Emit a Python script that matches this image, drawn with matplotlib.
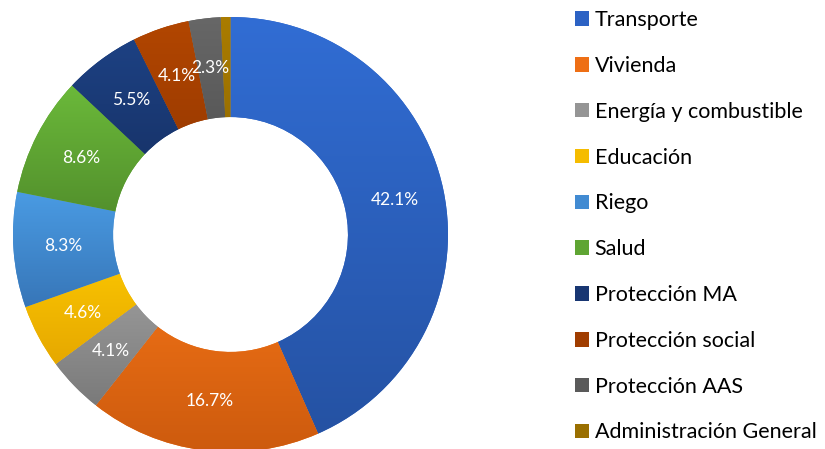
import numpy as np
import matplotlib.pyplot as plt
from matplotlib.patches import Patch
from matplotlib.colors import LinearSegmentedColormap

# Data
categories = ["Transporte", "Vivienda", "Energía y combustible", "Educación", "Riego",
              "Salud", "Protección MA", "Protección social", "Protección AAS",
              "Administración General"]
values = [42.1, 16.7, 4.1, 4.6, 8.3, 8.6, 5.5, 4.1, 2.3, 0.7]
labels = ["42.1%", "16.7%", "4.1%", "4.6%", "8.3%", "8.6%", "5.5%", "4.1%", "2.3%", ""]

# gradient colours per slice (top, bottom) like the Office theme
top_colors = ["#316DD4", "#F97818", "#A9A9A9", "#FFCC00", "#4A9BE3",
              "#6BB93A", "#1D4183", "#B24600", "#676767", "#AA7C00"]
bottom_colors = ["#2552A3", "#CC5A0E", "#7A7A7A", "#E6A800", "#3776B8",
                 "#4F8A2A", "#142C5C", "#8C3300", "#4A4A4A", "#8A6300"]
legend_colors = ["#2C62C4", "#EE6F15", "#959595", "#F5BC00", "#428BD2",
                 "#5FA533", "#183672", "#A03D00", "#5A5A5A", "#9A6F00"]

plt.rcParams['font.family'] = ['Lato', 'DejaVu Sans']

W, H = 825, 449
fig = plt.figure(figsize=(W / 100, H / 100), dpi=100)

cx, cy, R = 230.5, 234.5, 217.5
ax = fig.add_axes([(cx - R) / W, (H - cy - R) / H, 2 * R / W, 2 * R / H])

wedges, _ = ax.pie(values, startangle=90, counterclock=False, radius=1,
                   colors=legend_colors, wedgeprops=dict(width=0.46, linewidth=0))

# fill each slice with a vertical gradient, clipped to the wedge
grad = np.linspace(0, 1, 256).reshape(-1, 1)
for w, c1, c2 in zip(wedges, top_colors, bottom_colors):
    verts = w.get_path().vertices
    x0, x1 = verts[:, 0].min(), verts[:, 0].max()
    y0, y1 = verts[:, 1].min(), verts[:, 1].max()
    cmap = LinearSegmentedColormap.from_list("g", [c1, c2])
    im = ax.imshow(grad, cmap=cmap, extent=[x0, x1, y0, y1],
                   origin="upper", aspect="auto", zorder=2)
    im.set_clip_path(w)

# data labels in the middle of the ring
for w, lab in zip(wedges, labels):
    if not lab:
        continue
    ang = np.deg2rad((w.theta1 + w.theta2) / 2)
    r = 0.77
    ax.text(r * np.cos(ang), r * np.sin(ang), lab, ha="center", va="center",
            color="white", fontsize=12.5, zorder=5)

ax.set_xlim(-1, 1)
ax.set_ylim(-1, 1)
ax.set_aspect("equal")
ax.axis("off")

handles = [Patch(facecolor=c, edgecolor="none") for c in legend_colors]
fig.legend(handles, categories, loc="upper left",
           bbox_to_anchor=(575 / W, 1 - 10 / H), frameon=False,
           fontsize=15.5, handlelength=0.66, handleheight=0.66,
           handletextpad=0.25, labelspacing=1.2, borderpad=0, borderaxespad=0)

plt.savefig("out.png", dpi=100)
